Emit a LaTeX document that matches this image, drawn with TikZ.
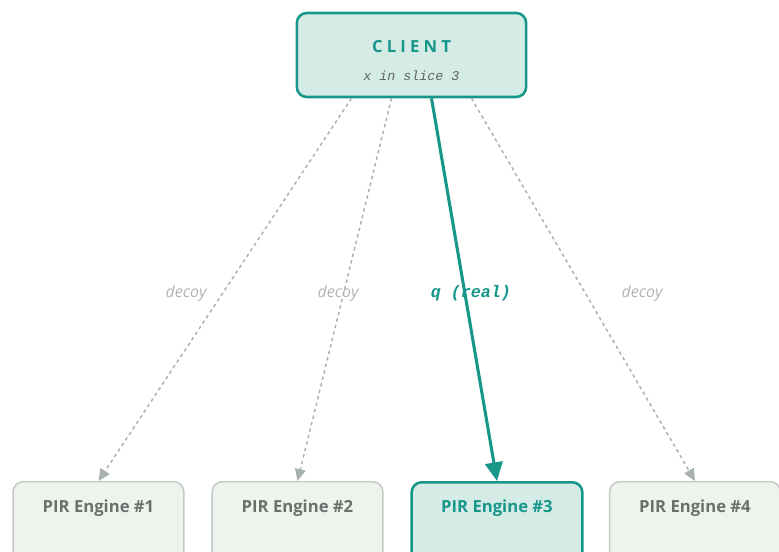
\documentclass[tikz,border=0pt]{standalone}
\usepackage{fontspec}
\setsansfont{Open Sans}
\setmonofont{Liberation Mono}
\usetikzlibrary{arrows.meta,calc}
\definecolor{teal}{HTML}{17968A}
\definecolor{tealfill}{HTML}{D4EBE6}
\definecolor{greyfill}{HTML}{EFF3EE}
\definecolor{greyline}{HTML}{C3CAC3}
\definecolor{decoyline}{HTML}{A8B2AC}
\definecolor{decoytext}{HTML}{ADB5B0}
\definecolor{enginetext}{HTML}{6A706C}
\tikzset{
  clientbox/.style={draw=teal,fill=tealfill,line width=1.9pt,rounded corners=7.5pt,
    minimum width=172pt,minimum height=63pt,align=center},
  enginebox/.style={draw=greyline,fill=greyfill,line width=1.1pt,rounded corners=7.5pt,
    minimum width=128pt,minimum height=60pt,anchor=north},
  realbox/.style={enginebox,draw=teal,fill=tealfill,line width=1.9pt},
  decoyarrow/.style={draw=decoyline,line width=1.1pt,dash pattern=on 2.5pt off 2.5pt,
    -{Triangle[length=9pt,width=8pt]}},
  realarrow/.style={draw=teal,line width=2.3pt,-{Triangle[length=14pt,width=13pt]}},
  decoylabel/.style={font=\sffamily\itshape\fontsize{12}{14}\selectfont,text=decoytext},
  enginefont/.style={font=\sffamily\bfseries\fontsize{12.5}{14}\selectfont},
}
\begin{document}
\begin{tikzpicture}[x=0.75pt,y=-0.75pt,line join=round]
	\useasboundingbox (0,0) rectangle (779,551);
	\clip (0,0) rectangle (779,551);
	% client
	\node[clientbox] (client) at (411.5,55)
	  {\rule{0pt}{18pt}{\sffamily\bfseries\fontsize{12.5}{14}\selectfont\addfontfeatures{LetterSpace=25}\color{teal}CLIENT}\\[9pt]
	   {\ttfamily\itshape\fontsize{10}{12}\selectfont\color{enginetext!90!black}x in slice 3}};
	% cac engine
	\foreach \i/\x in {1/98.5,2/297.5,4/695}
	  \node[enginebox,label={[anchor=center,yshift=-20pt,text=enginetext,enginefont]north:PIR Engine \#\i}] (e\i) at (\x,481) {};
	\node[realbox,label={[anchor=center,yshift=-20pt,text=teal,enginefont]north:PIR Engine \#3}] (e3) at (497,481) {};
	% diem xuat phat
	\path ($(client.south)+(-60,0)$) coordinate (s1)
	      ($(client.south)+(-20,0)$) coordinate (s2)
	      ($(client.south)+(20,0)$) coordinate (s3)
	      ($(client.south)+(60,0)$) coordinate (s4);
	% cac mui ten
	\draw[decoyarrow] (s1) -- (e1.north);
	\draw[decoyarrow] (s2) -- (e2.north);
	\draw[decoyarrow] (s4) -- (e4.north);
	\draw[realarrow] (s3) -- (e3.north);
	% nhan
	\node[decoylabel] (d1) at (186,293) {decoy};
	\node[decoylabel] (d2) at (338,293) {decoy};
	\node[decoylabel] (d4) at (642,293) {decoy};
	\node[font=\ttfamily\bfseries\itshape\fontsize{12.5}{14}\selectfont,text=teal] (q) at (471,293) {q (real)};
\end{tikzpicture}
\end{document}
